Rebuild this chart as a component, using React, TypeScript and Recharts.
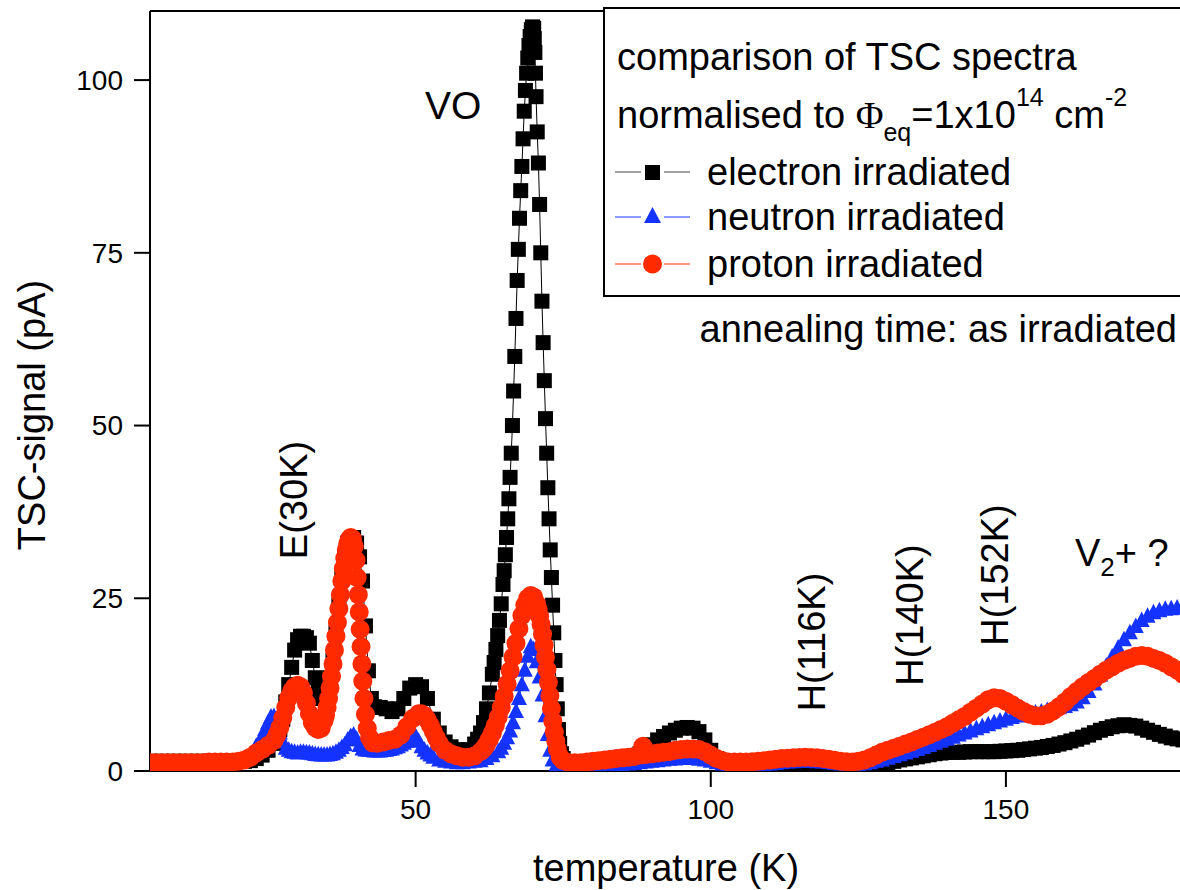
import React from "react";
import { LineChart, Line, XAxis, YAxis, ReferenceLine } from "recharts";

const FONT = '"Liberation Sans", Arial, Helvetica, sans-serif';
const SERIF = '"Liberation Serif", "DejaVu Serif", serif';
const BLUE = "#1433ff";
const RED = "#ff2a00";

// [temperature (K), TSC signal (pA)]
const electron: [number, number][] = [
  [5, 1.4], [6, 1.4], [7, 1.4], [8, 1.4], [9, 1.4], [10, 1.4], [11, 1.4], [12, 1.4], [13, 1.4], [14, 1.4],
  [15, 1.4], [16, 1.4], [17, 1.4], [18, 1.4], [19, 1.4], [20, 1.4], [21, 1.4], [22, 1.5], [23, 1.8], [24, 2.3],
  [25, 3], [26, 4], [27, 6], [27.5, 7.5], [28, 10], [28.5, 12.5], [29, 15], [29.5, 17.5], [30, 19], [30.5, 19.5],
  [31, 19.5], [31.5, 19.3], [32, 18.5], [32.5, 16], [33, 13.5], [33.5, 11.5], [34, 10.5], [34.5, 10.5], [35, 11.5],
  [35.5, 13.5], [36, 16], [36.5, 20], [37, 24], [37.5, 28], [38, 31], [38.5, 33], [39, 33.5], [39.5, 33.8],
  [40, 33], [40.5, 31], [41, 27.5], [41.5, 21], [42, 14.5], [42.5, 10.5], [43, 9.3], [44, 9.2], [45, 9],
  [46, 8.6], [47, 9], [48, 10.5], [49, 12], [50, 12.5], [51, 12.2], [52, 10.5], [53, 7.5], [54, 5.5], [55, 4.2],
  [56, 3.5], [57, 3.1], [58, 2.9], [59, 3.1], [60, 3.9], [60.5, 4.6], [61, 5.5], [61.5, 7], [62, 9], [62.5, 11.3],
  [63, 14], [63.3, 15.7], [63.6, 17.6], [63.9, 19.6], [64.2, 21.8], [64.5, 24.2], [64.8, 27], [65, 29],
  [65.2, 31.3], [65.4, 33.8], [65.6, 36.5], [65.8, 39.4], [66, 42.5], [66.2, 46], [66.4, 50], [66.6, 55],
  [66.8, 60], [67, 65.5], [67.2, 71], [67.4, 75.5], [67.6, 80], [67.8, 84], [68, 87.5], [68.2, 91.5],
  [68.4, 95.5], [68.6, 98.5], [68.8, 101], [69, 103.2], [69.2, 105], [69.4, 106.3], [69.6, 107.3],
  [69.8, 107.7], [70, 107.5], [70.1, 106], [70.2, 104], [70.3, 101], [70.4, 97.6], [70.6, 92.5], [70.8, 88],
  [71, 82], [71.2, 75], [71.4, 68], [71.6, 62], [71.8, 56.5], [72, 51], [72.2, 46], [72.4, 41], [72.6, 36.5],
  [72.8, 32], [73, 28], [73.2, 24], [73.4, 20], [73.6, 16], [73.8, 12.5], [74, 9], [74.2, 6], [74.4, 4],
  [74.7, 2.5], [75, 1.8], [76, 1.3], [77, 1.2], [78, 1.2], [79, 1.2], [80, 1.2], [81, 1.2], [82, 1.3], [83, 1.3],
  [84, 1.4], [85, 1.5], [86, 1.7], [87, 2], [88, 2.5], [89, 3.2], [90, 3.8], [91, 4.5], [92, 5], [93, 5.5],
  [94, 5.9], [95, 6.2], [96, 6.3], [97, 6.2], [98, 5.7], [99, 4.5], [100, 3], [101, 1.8], [102, 1.2], [103, 1],
  [104, 0.9], [105, 0.9], [106, 0.9], [107, 0.9], [108, 0.9], [109, 1], [110, 1], [111, 1], [112, 1], [113, 1],
  [114, 1], [115, 1], [116, 1], [117, 0.95], [118, 0.9], [119, 0.85], [120, 0.8], [121, 0.7], [122, 0.6],
  [123, 0.55], [124, 0.5], [125, 0.55], [126, 0.6], [127, 0.75], [128, 0.9], [129, 1.05], [130, 1.2], [131, 1.4],
  [132, 1.6], [133, 1.75], [134, 1.9], [135, 2.05], [136, 2.2], [137, 2.35], [138, 2.5], [139, 2.6], [140, 2.7],
  [141, 2.7], [142, 2.7], [143, 2.75], [144, 2.8], [145, 2.8], [146, 2.8], [147, 2.8], [148, 2.8], [149, 2.85],
  [150, 2.9], [151, 2.95], [152, 3], [153, 3.1], [154, 3.2], [155, 3.3], [156, 3.4], [157, 3.55], [158, 3.7],
  [159, 3.9], [160, 4.1], [161, 4.35], [162, 4.6], [163, 4.9], [164, 5.2], [165, 5.55], [166, 5.9], [167, 6.15],
  [168, 6.4], [169, 6.55], [170, 6.7], [171, 6.6], [172, 6.5], [173, 6.2], [174, 5.9], [175, 5.6], [176, 5.3],
  [177, 5.05], [178, 4.8], [179, 4.65], [180, 4.5],
];

const neutron: [number, number][] = [
  [5, 1.3], [6, 1.3], [7, 1.3], [8, 1.3], [9, 1.3], [10, 1.3], [11, 1.3], [12, 1.3], [13, 1.3], [14, 1.3],
  [15, 1.3], [16, 1.3], [17, 1.3], [18, 1.3], [19, 1.3], [20, 1.3], [21, 1.6], [22, 2.4], [23, 3.6], [24, 5],
  [24.5, 6], [25, 7], [25.5, 7.8], [26, 7.9], [26.5, 7], [27, 5.5], [27.5, 4.2], [28, 3.3], [28.5, 3], [29, 2.8],
  [29.5, 2.7], [30, 2.6], [30.5, 2.7], [31, 2.7], [31.5, 2.65], [32, 2.6], [32.5, 2.5], [33, 2.4], [33.5, 2.35],
  [34, 2.3], [34.5, 2.3], [35, 2.3], [35.5, 2.4], [36, 2.5], [36.5, 2.7], [37, 3], [37.5, 3.4], [38, 3.8],
  [38.5, 4.5], [39, 5], [39.5, 5.2], [40, 4.6], [40.5, 3.7], [41, 3.2], [41.5, 3.05], [42, 3], [42.5, 2.95],
  [43, 2.9], [43.5, 2.9], [44, 2.9], [44.5, 2.95], [45, 3], [45.5, 3.1], [46, 3.2], [46.5, 3.35], [47, 3.5],
  [47.5, 3.75], [48, 4], [48.5, 4.3], [49, 4.6], [49.5, 5], [50, 5], [50.5, 4.3], [51, 3.5], [51.5, 3],
  [52, 2.6], [52.5, 2.3], [53, 2], [54, 1.6], [55, 1.4], [56, 1.3], [57, 1.2], [58, 1.2], [59, 1.3], [60, 1.4],
  [61, 1.5], [62, 1.8], [63, 2.2], [64, 2.8], [64.5, 3.3], [65, 4], [65.5, 4.8], [66, 5.8], [66.5, 7], [67, 8.6],
  [67.5, 10.5], [68, 12.5], [68.5, 14.6], [69, 16.6], [69.5, 18], [70, 17.6], [70.5, 15.8], [71, 13.6],
  [71.5, 11], [72, 8], [72.4, 5.3], [72.8, 3], [73.2, 1.6], [73.8, 0.8], [75, 0.6], [76, 0.6], [77, 0.6],
  [78, 0.6], [79, 0.6], [80, 0.65], [81, 0.7], [82, 0.75], [83, 0.8], [84, 0.85], [85, 0.9], [86, 1], [87, 1.1],
  [88, 1.2], [89, 1.3], [90, 1.4], [91, 1.5], [92, 1.6], [93, 1.7], [94, 1.75], [95, 1.8], [96, 1.8], [97, 1.8],
  [98, 1.7], [99, 1.6], [100, 1.4], [101, 1.2], [102, 1], [103, 0.9], [104, 0.85], [105, 0.8], [106, 0.8],
  [107, 0.8], [108, 0.85], [109, 0.9], [110, 1], [111, 1.1], [112, 1.2], [113, 1.3], [114, 1.35], [115, 1.4],
  [116, 1.4], [117, 1.4], [118, 1.35], [119, 1.3], [120, 1.2], [121, 1.1], [122, 1], [123, 0.9], [124, 0.9],
  [125, 0.95], [126, 1.05], [127, 1.2], [128, 1.4], [129, 1.6], [130, 1.85], [131, 2.1], [132, 2.35],
  [133, 2.6], [134, 2.85], [135, 3.1], [136, 3.4], [137, 3.7], [138, 4], [139, 4.3], [140, 4.6], [141, 4.9],
  [142, 5.2], [143, 5.5], [144, 5.8], [145, 6.1], [146, 6.4], [147, 6.7], [148, 7], [149, 7.25], [150, 7.5],
  [151, 7.75], [152, 7.95], [153, 8.1], [154, 8.25], [155, 8.4], [156, 8.55], [157, 8.75], [158, 8.95],
  [159, 9.15], [160, 9.35], [161, 9.6], [162, 10], [163, 10.6], [164, 11.5], [165, 12.6], [166, 13.9],
  [167, 15.2], [168, 16.5], [169, 17.8], [170, 19], [171, 20], [172, 20.9], [173, 21.8], [174, 22.4],
  [175, 22.9], [176, 23.2], [177, 23.4], [178, 23.5], [179, 23.6], [180, 23.6],
];

const proton: [number, number][] = [
  [5, 1.2], [6, 1.2], [7, 1.2], [8, 1.2], [9, 1.2], [10, 1.2], [11, 1.2], [12, 1.2], [13, 1.2], [14, 1.2],
  [15, 1.3], [16, 1.3], [17, 1.3], [18, 1.3], [19, 1.3], [20, 1.4], [21, 1.6], [22, 2], [23, 2.6], [24, 3.1],
  [25, 3.7], [26, 4.4], [26.5, 5.2], [27, 6.3], [27.5, 7.7], [28, 9.2], [28.5, 10.6], [29, 11.6], [29.5, 12.2],
  [30, 12.4], [30.5, 12.2], [31, 11.3], [31.5, 9.8], [32, 8.3], [32.5, 7], [33, 6.3], [33.5, 6], [34, 6.2],
  [34.5, 7.3], [34.75, 8.1], [35, 9.2], [35.25, 10.5], [35.5, 12], [35.75, 13.7], [36, 15.5], [36.25, 17.5],
  [36.5, 19.5], [36.75, 21.5], [37, 23.5], [37.25, 25.5], [37.5, 27.5], [37.75, 29.3], [38, 30.8],
  [38.25, 32], [38.5, 32.9], [38.75, 33.5], [39, 33.8], [39.3, 33.6], [39.6, 32.5], [39.9, 30.5], [40.1, 28],
  [40.3, 25.5], [40.45, 23], [40.6, 20.5], [40.75, 18], [40.9, 15.5], [41.05, 13], [41.25, 10.5], [41.5, 8.2],
  [41.8, 6.2], [42.2, 4.8], [42.7, 4.1], [43.5, 4], [44.5, 4.2], [45.5, 4.4], [46.5, 4.6], [47.5, 5.2],
  [48.5, 6.4], [49.5, 7.6], [50.5, 8.3], [51, 8.3], [51.5, 8], [52, 7.4], [52.5, 6.6], [53, 5.7], [53.5, 4.8],
  [54, 4], [55, 3], [56, 2.5], [57, 2.2], [58, 2], [59, 2], [60, 2.2], [61, 2.8], [61.5, 3.2], [62, 3.8],
  [62.5, 4.6], [63, 5.5], [63.5, 6.6], [64, 7.8], [64.5, 9.2], [65, 10.8], [65.5, 12.6], [66, 14.5],
  [66.5, 16.5], [67, 18.5], [67.5, 20.6], [68, 22.5], [68.5, 24], [69, 25], [69.5, 25.4], [70, 25.2],
  [70.5, 24.2], [70.75, 23.4], [71, 22.4], [71.25, 21.2], [71.5, 19.8], [71.75, 18.2], [72, 16.5],
  [72.25, 14.7], [72.5, 12.8], [72.75, 10.9], [73, 9], [73.25, 7.2], [73.5, 5.6], [73.75, 4.3], [74, 3.2],
  [74.5, 2], [75, 1.5], [76, 1.2], [77, 1.2], [78, 1.2], [79, 1.3], [80, 1.4], [81, 1.5], [82, 1.6], [83, 1.7],
  [84, 1.8], [85, 1.9], [86, 2], [87, 2.1], [88, 2.3], [88.5, 3.6], [89, 2.4], [90, 2.5], [91, 2.6], [92, 2.7],
  [93, 2.8], [94, 3], [95, 3.1], [96, 3.2], [97, 3.2], [98, 3.1], [99, 2.8], [100, 2.3], [101, 1.8], [102, 1.5],
  [103, 1.3], [104, 1.3], [105, 1.3], [106, 1.3], [107, 1.35], [108, 1.4], [109, 1.5], [110, 1.6], [111, 1.7],
  [112, 1.8], [113, 1.85], [114, 1.9], [115, 1.95], [116, 2], [117, 1.95], [118, 1.9], [119, 1.8], [120, 1.7],
  [121, 1.55], [122, 1.4], [123, 1.35], [124, 1.3], [125, 1.4], [126, 1.6], [127, 1.9], [128, 2.3], [129, 2.7],
  [130, 3], [131, 3.3], [132, 3.6], [133, 3.9], [134, 4.2], [135, 4.55], [136, 4.9], [137, 5.25], [138, 5.6],
  [139, 6], [140, 6.4], [141, 6.9], [142, 7.4], [143, 7.9], [144, 8.5], [145, 9.1], [146, 9.7], [147, 10.3],
  [148, 10.6], [149, 10.5], [150, 10.1], [151, 9.6], [152, 9.1], [153, 8.6], [154, 8.2], [155, 8], [156, 8],
  [157, 8.2], [158, 8.7], [159, 9.3], [160, 10], [161, 10.8], [162, 11.5], [163, 12.2], [164, 12.8],
  [165, 13.4], [166, 14], [167, 14.6], [168, 15.1], [169, 15.6], [170, 16], [171, 16.3], [172, 16.6],
  [173, 16.7], [174, 16.6], [175, 16.3], [176, 16], [177, 15.6], [178, 15.1], [179, 14.6], [180, 14],
];

const xTicks = [50, 100, 150];
const yTicks = [0, 25, 50, 75, 100];

const toRows = (pts: [number, number][]) => pts.map(([t, v]) => ({ t, v }));

const squareDot = (p: any) =>
  p.cx == null ? null : (
    <rect key={`s-${p.index}`} x={p.cx - 7.5} y={p.cy - 7.5} width={15} height={15} fill="#000" />
  );

const triangleDot = (p: any) =>
  p.cx == null ? null : (
    <polygon
      key={`t-${p.index}`}
      points={`${p.cx},${p.cy - 9} ${p.cx - 8},${p.cy + 6.5} ${p.cx + 8},${p.cy + 6.5}`}
      fill={BLUE}
    />
  );

const circleDot = (p: any) =>
  p.cx == null ? null : <circle key={`c-${p.index}`} cx={p.cx} cy={p.cy} r={9.5} fill={RED} />;

const tickStyle = { fontSize: 28, fill: "#000", fontFamily: FONT };
const axisStroke = { stroke: "#000", strokeWidth: 2 };

function LegendRow({
  y,
  label,
  color,
  marker,
}: {
  y: number;
  label: string;
  color: string;
  marker: React.ReactNode;
}) {
  return (
    <g>
      <line x1={615} x2={641} y1={y} y2={y} stroke={color} strokeWidth={1} />
      <line x1={664} x2={690} y1={y} y2={y} stroke={color} strokeWidth={1} />
      {marker}
      <text x={707} y={y + 13} fontSize={38}>
        {label}
      </text>
    </g>
  );
}

const vertical = (x: number, y: number, s: string) => (
  <text transform={`translate(${x},${y}) rotate(-90)`} textAnchor="middle" fontSize={38}>
    {s}
  </text>
);

export default function App() {
  return (
    <div
      style={{
        position: "fixed",
        left: 0,
        top: 0,
        width: 1180,
        height: 890,
        overflow: "hidden",
        background: "#fff",
      }}
    >
      <LineChart width={1200} height={890} margin={{ top: 11, right: 17, bottom: 59, left: 0 }}>
        <XAxis
          type="number"
          dataKey="t"
          domain={[5, 180]}
          ticks={xTicks}
          allowDataOverflow
          height={60}
          tickSize={16}
          tickMargin={12}
          tick={tickStyle}
          axisLine={axisStroke}
          tickLine={axisStroke}
        />
        <YAxis
          type="number"
          dataKey="v"
          domain={[0, 110]}
          ticks={yTicks}
          allowDataOverflow
          width={150}
          tickSize={16}
          tickMargin={11}
          tick={tickStyle}
          axisLine={axisStroke}
          tickLine={axisStroke}
        />
        <ReferenceLine y={110} stroke="#000" strokeWidth={2} />
        <Line
          data={toRows(electron)}
          dataKey="v"
          type="linear"
          stroke="#000"
          strokeWidth={1}
          dot={squareDot}
          activeDot={false}
          isAnimationActive={false}
        />
        <Line
          data={toRows(neutron)}
          dataKey="v"
          type="linear"
          stroke={BLUE}
          strokeWidth={1}
          dot={triangleDot}
          activeDot={false}
          isAnimationActive={false}
        />
        <Line
          data={toRows(proton)}
          dataKey="v"
          type="linear"
          stroke={RED}
          strokeWidth={1}
          dot={circleDot}
          activeDot={false}
          isAnimationActive={false}
        />
      </LineChart>
      <svg
        width={1180}
        height={890}
        style={{ position: "absolute", left: 0, top: 0, pointerEvents: "none" }}
        fontFamily={FONT}
        fill="#000"
      >
        {vertical(45, 415, "TSC-signal (pA)")}
        <text x={666} y={881} textAnchor="middle" fontSize={38}>
          temperature (K)
        </text>
        <text x={425} y={119} fontSize={39}>
          VO
        </text>
        {vertical(307, 500, "E(30K)")}
        {vertical(825, 642, "H(116K)")}
        {vertical(923, 615, "H(140K)")}
        {vertical(1008, 575, "H(152K)")}
        <text x={1075} y={566} fontSize={38}>
          V
          <tspan fontSize={26} dy={10}>
            2
          </tspan>
          <tspan dy={-10}>+ ?</tspan>
        </text>

        <rect x={604} y={8} width={700} height={288} fill="#fff" stroke="#000" strokeWidth={2} />
        <text x={617} y={70} fontSize={38}>
          comparison of TSC spectra
        </text>
        <text x={617} y={128} fontSize={38}>
          normalised to{" "}
          <tspan fontFamily={SERIF} fontSize={38}>
            Φ
          </tspan>
          <tspan fontSize={25} dy={13}>
            eq
          </tspan>
          <tspan dy={-13}>=1x10</tspan>
          <tspan fontSize={25} dy={-22}>
            14
          </tspan>
          <tspan dy={22}> cm</tspan>
          <tspan fontSize={25} dy={-22}>
            -2
          </tspan>
        </text>
        <LegendRow
          y={172}
          label="electron irradiated"
          color="#444"
          marker={<rect x={645} y={165} width={15} height={15} fill="#000" />}
        />
        <LegendRow
          y={217}
          label="neutron irradiated"
          color={BLUE}
          marker={<polygon points="652.5,207 644,223 661,223" fill={BLUE} />}
        />
        <LegendRow
          y={264}
          label="proton irradiated"
          color={RED}
          marker={<circle cx={652.5} cy={264} r={9.5} fill={RED} />}
        />
        <text x={1177} y={342} textAnchor="end" fontSize={38}>
          annealing time: as irradiated
        </text>
      </svg>
    </div>
  );
}
